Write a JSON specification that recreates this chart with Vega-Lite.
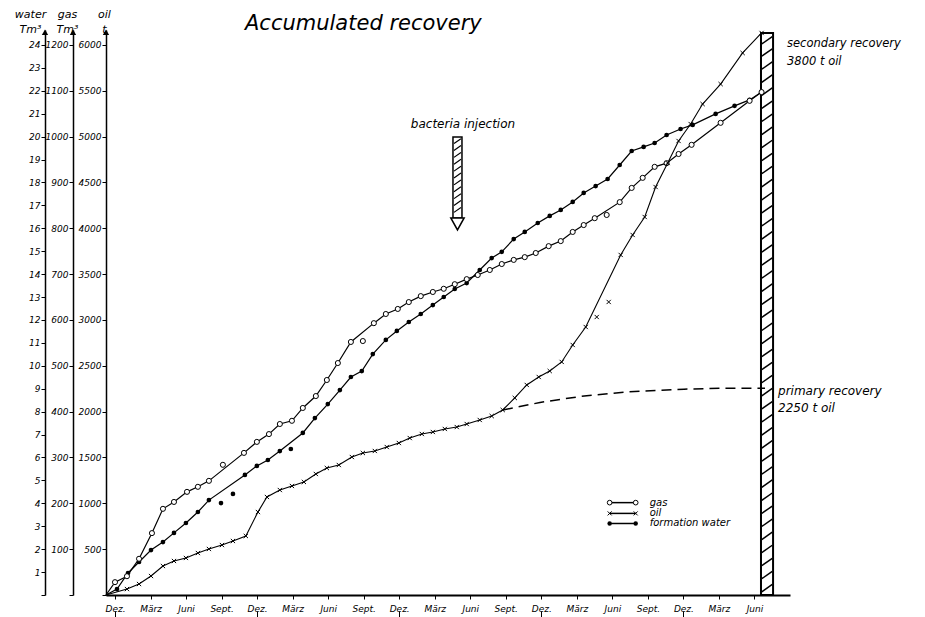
{
"$schema":"https://vega.github.io/schema/vega-lite/v6.json",
"width":684,"height":565,
"autosize":{"type":"none"},
"padding":{"left":106,"top":30,"right":135,"bottom":22},
"background":"white",
"config":{"view":{"stroke":null},"font":"DejaVu Sans",
 "axis":{"grid":false,"domainColor":"black","domainWidth":1.5,"tickColor":"black","tickWidth":1,"labelColor":"black","labelFont":"DejaVu Sans","labelFontStyle":"italic","labelFontSize":10,"titleColor":"black","titleFont":"DejaVu Sans","titleFontStyle":"italic","titleFontWeight":"normal","titleFontSize":11},
 "axisX":{"labelOverlap":false,"labelFlush":false},
 "axisY":{"labelOverlap":false,"labelFontSize":9,"tickSize":4,"labelPadding":1},
 "text":{"font":"DejaVu Sans","fontStyle":"italic","color":"black"}},
"title":{"text":"Accumulated recovery","anchor":"start","frame":"group","dx":139,"dy":24,"offset":-2,"fontSize":21,"fontStyle":"italic","fontWeight":"normal","font":"DejaVu Sans","color":"black"},
"datasets":{
 "water":[{"m":-0.76,"w":0,"on_curve":true},{"m":0.17,"w":0.26,"on_curve":true},{"m":1.10,"w":0.96,"on_curve":true},{"m":2.03,"w":1.44,"on_curve":true},{"m":3.04,"w":1.96,"on_curve":true},{"m":4.05,"w":2.31,"on_curve":true},{"m":4.98,"w":2.71,"on_curve":true},{"m":5.99,"w":3.14,"on_curve":true},{"m":7.00,"w":3.62,"on_curve":true},{"m":7.93,"w":4.14,"on_curve":true},{"m":8.95,"w":4.01,"on_curve":false},{"m":9.96,"w":4.41,"on_curve":false},{"m":10.97,"w":5.24,"on_curve":true},{"m":11.98,"w":5.63,"on_curve":true},{"m":12.91,"w":5.89,"on_curve":true},{"m":13.92,"w":6.28,"on_curve":true},{"m":14.85,"w":6.37,"on_curve":false},{"m":15.86,"w":7.07,"on_curve":true},{"m":16.88,"w":7.72,"on_curve":true},{"m":17.97,"w":8.33,"on_curve":true},{"m":18.99,"w":8.94,"on_curve":true},{"m":19.92,"w":9.51,"on_curve":true},{"m":20.84,"w":9.77,"on_curve":true},{"m":21.77,"w":10.51,"on_curve":true},{"m":22.87,"w":11.13,"on_curve":true},{"m":23.80,"w":11.52,"on_curve":true},{"m":24.81,"w":11.91,"on_curve":true},{"m":25.82,"w":12.26,"on_curve":true},{"m":26.84,"w":12.65,"on_curve":true},{"m":27.76,"w":13.00,"on_curve":true},{"m":28.69,"w":13.35,"on_curve":true},{"m":29.70,"w":13.61,"on_curve":true},{"m":30.80,"w":14.18,"on_curve":true},{"m":31.81,"w":14.70,"on_curve":true},{"m":32.66,"w":14.97,"on_curve":true},{"m":33.67,"w":15.53,"on_curve":true},{"m":34.60,"w":15.84,"on_curve":true},{"m":35.70,"w":16.23,"on_curve":true},{"m":36.71,"w":16.54,"on_curve":true},{"m":37.64,"w":16.80,"on_curve":true},{"m":38.65,"w":17.15,"on_curve":true},{"m":39.58,"w":17.54,"on_curve":true},{"m":40.59,"w":17.84,"on_curve":true},{"m":41.60,"w":18.15,"on_curve":true},{"m":42.62,"w":18.76,"on_curve":true},{"m":43.63,"w":19.37,"on_curve":true},{"m":44.64,"w":19.55,"on_curve":true},{"m":45.57,"w":19.72,"on_curve":true},{"m":46.58,"w":20.07,"on_curve":true},{"m":47.76,"w":20.33,"on_curve":true},{"m":48.78,"w":20.51,"on_curve":true},{"m":50.72,"w":20.99,"on_curve":true},{"m":52.32,"w":21.34,"on_curve":true},{"m":53.59,"w":21.60,"on_curve":true},{"m":54.60,"w":21.95,"on_curve":true}],
 "gas":[{"m":-0.76,"g":0,"on_curve":true},{"m":0,"g":28,"on_curve":true},{"m":1.01,"g":41,"on_curve":true},{"m":2.03,"g":79,"on_curve":true},{"m":3.12,"g":135,"on_curve":true},{"m":4.05,"g":188,"on_curve":true},{"m":4.98,"g":203,"on_curve":true},{"m":6.08,"g":225,"on_curve":true},{"m":7.00,"g":236,"on_curve":true},{"m":7.93,"g":249,"on_curve":true},{"m":9.11,"g":284,"on_curve":false},{"m":10.89,"g":310,"on_curve":true},{"m":11.98,"g":334,"on_curve":true},{"m":13.0,"g":351,"on_curve":true},{"m":13.92,"g":373,"on_curve":true},{"m":14.94,"g":380,"on_curve":true},{"m":15.86,"g":408,"on_curve":true},{"m":16.96,"g":434,"on_curve":true},{"m":17.89,"g":469,"on_curve":true},{"m":18.82,"g":506,"on_curve":true},{"m":19.92,"g":552,"on_curve":true},{"m":20.93,"g":554,"on_curve":false},{"m":21.86,"g":593,"on_curve":true},{"m":22.87,"g":613,"on_curve":true},{"m":23.88,"g":624,"on_curve":true},{"m":24.81,"g":639,"on_curve":true},{"m":25.82,"g":652,"on_curve":true},{"m":26.84,"g":661,"on_curve":true},{"m":27.76,"g":668,"on_curve":true},{"m":28.69,"g":678,"on_curve":true},{"m":29.70,"g":689,"on_curve":true},{"m":30.63,"g":698,"on_curve":true},{"m":31.65,"g":709,"on_curve":true},{"m":32.66,"g":722,"on_curve":true},{"m":33.67,"g":731,"on_curve":true},{"m":34.6,"g":737,"on_curve":true},{"m":35.53,"g":746,"on_curve":true},{"m":36.62,"g":761,"on_curve":true},{"m":37.64,"g":772,"on_curve":true},{"m":38.65,"g":792,"on_curve":true},{"m":39.58,"g":807,"on_curve":true},{"m":40.51,"g":822,"on_curve":true},{"m":41.52,"g":829,"on_curve":false},{"m":42.62,"g":857,"on_curve":true},{"m":43.63,"g":888,"on_curve":true},{"m":44.56,"g":910,"on_curve":true},{"m":45.57,"g":934,"on_curve":true},{"m":46.58,"g":942,"on_curve":true},{"m":47.59,"g":962,"on_curve":true},{"m":48.69,"g":982,"on_curve":true},{"m":51.14,"g":1030,"on_curve":true},{"m":53.59,"g":1078,"on_curve":true},{"m":54.6,"g":1097,"on_curve":true}],
 "oil":[{"m":-0.76,"t":0,"on_curve":true},{"m":1.01,"t":65,"on_curve":true},{"m":2.03,"t":120,"on_curve":true},{"m":3.04,"t":207,"on_curve":true},{"m":4.05,"t":316,"on_curve":true},{"m":4.98,"t":371,"on_curve":true},{"m":5.99,"t":404,"on_curve":true},{"m":7.00,"t":458,"on_curve":true},{"m":7.93,"t":502,"on_curve":true},{"m":9.03,"t":545,"on_curve":true},{"m":9.96,"t":589,"on_curve":true},{"m":11.05,"t":644,"on_curve":true},{"m":12.07,"t":905,"on_curve":true},{"m":12.83,"t":1069,"on_curve":true},{"m":13.92,"t":1145,"on_curve":true},{"m":14.94,"t":1189,"on_curve":true},{"m":15.95,"t":1233,"on_curve":true},{"m":16.96,"t":1320,"on_curve":true},{"m":17.89,"t":1385,"on_curve":true},{"m":18.9,"t":1418,"on_curve":true},{"m":20.0,"t":1505,"on_curve":true},{"m":20.93,"t":1549,"on_curve":true},{"m":21.94,"t":1571,"on_curve":true},{"m":22.95,"t":1614,"on_curve":true},{"m":23.97,"t":1658,"on_curve":true},{"m":24.89,"t":1712,"on_curve":true},{"m":25.91,"t":1756,"on_curve":true},{"m":26.84,"t":1778,"on_curve":true},{"m":27.85,"t":1811,"on_curve":true},{"m":28.86,"t":1832,"on_curve":true},{"m":29.70,"t":1865,"on_curve":true},{"m":30.80,"t":1909,"on_curve":true},{"m":31.81,"t":1952,"on_curve":true},{"m":32.74,"t":2018,"on_curve":true},{"m":33.76,"t":2149,"on_curve":true},{"m":34.77,"t":2291,"on_curve":true},{"m":35.78,"t":2378,"on_curve":true},{"m":36.71,"t":2443,"on_curve":true},{"m":37.72,"t":2542,"on_curve":true},{"m":38.65,"t":2727,"on_curve":true},{"m":39.75,"t":2923,"on_curve":true},{"m":40.68,"t":3032,"on_curve":false},{"m":41.69,"t":3196,"on_curve":false},{"m":42.70,"t":3709,"on_curve":true},{"m":43.71,"t":3927,"on_curve":true},{"m":44.73,"t":4123,"on_curve":true},{"m":45.65,"t":4450,"on_curve":true},{"m":46.67,"t":4712,"on_curve":true},{"m":47.59,"t":4952,"on_curve":true},{"m":48.61,"t":5137,"on_curve":true},{"m":49.62,"t":5355,"on_curve":true},{"m":51.14,"t":5573,"on_curve":true},{"m":53.0,"t":5912,"on_curve":true},{"m":54.6,"t":6130,"on_curve":true}],
 "primary":[{"m":32.76,"t":2018},{"m":35.89,"t":2100},{"m":39.27,"t":2165},{"m":43.23,"t":2215},{"m":48.05,"t":2245},{"m":51.09,"t":2255},{"m":54.89,"t":2255}],
 "bar_hatch":[{"h":0.3},{"h":0.87},{"h":1.44},{"h":2.01},{"h":2.58},{"h":3.15},{"h":3.72},{"h":4.29},{"h":4.86},{"h":5.43},{"h":6.0},{"h":6.57},{"h":7.14},{"h":7.71},{"h":8.28},{"h":8.85},{"h":9.42},{"h":9.99},{"h":10.56},{"h":11.13},{"h":11.7},{"h":12.27},{"h":12.84},{"h":13.41},{"h":13.98},{"h":14.55},{"h":15.12},{"h":15.69},{"h":16.26},{"h":16.83},{"h":17.4},{"h":17.97},{"h":18.54},{"h":19.11},{"h":19.68},{"h":20.25},{"h":20.82},{"h":21.39},{"h":21.96},{"h":22.53},{"h":23.1},{"h":23.67},{"h":24.2}],
 "arrow_hatch":[{"h":16.8},{"h":17.1},{"h":17.4},{"h":17.7},{"h":18.0},{"h":18.3},{"h":18.6},{"h":18.9},{"h":19.2},{"h":19.5},{"h":19.8}]
},
"resolve":{"scale":{"y":"independent"}},
"layer":[
 {"layer":[
  {"data":{"name":"water"},"transform":[{"filter":"datum.on_curve"}],"mark":{"type":"line","color":"black","strokeWidth":1.2},
   "encoding":{"x":{"field":"m","type":"quantitative"},
    "y":{"field":"w","type":"quantitative","scale":{"domain":[0,24.65],"nice":false,"zero":false},
     "axis":{"orient":"left","offset":61,"values":[0,1,2,3,4,5,6,7,8,9,10,11,12,13,14,15,16,17,18,19,20,21,22,23,24],"tickCount":40,"format":"d","labelExpr":"datum.value == 0 ? '' : datum.label","labelOverlap":false,"title":["water","Tm³"],"titleAngle":0,"titleAlign":"center","titleBaseline":"alphabetic","titleX":-15,"titleY":-13,"titleLineHeight":15}}}},
  {"data":{"values":[{}]},"mark":{"type":"rect","fill":"white","stroke":"black","strokeWidth":2},
   "encoding":{"x":{"datum":54.55,"type":"quantitative"},"x2":{"datum":55.57},"y":{"datum":0,"type":"quantitative"},"y2":{"datum":24.52}}},
  {"data":{"name":"bar_hatch"},"mark":{"type":"point","shape":"M-1,0.7L1,-0.7","filled":false,"stroke":"black","strokeWidth":1.5,"size":110,"opacity":1},
   "encoding":{"x":{"datum":55.06,"type":"quantitative"},"y":{"field":"h","type":"quantitative"}}},
  {"data":{"values":[{}]},"mark":{"type":"rect","fill":"white","stroke":"black","strokeWidth":1.5},
   "encoding":{"x":{"datum":28.54,"type":"quantitative"},"x2":{"datum":29.3},"y":{"datum":16.45,"type":"quantitative"},"y2":{"datum":19.98}}},
  {"data":{"name":"arrow_hatch"},"mark":{"type":"point","shape":"M-1,0.7L1,-0.7","filled":false,"stroke":"black","strokeWidth":1.2,"size":49,"opacity":1},
   "encoding":{"x":{"datum":28.92,"type":"quantitative"},"y":{"field":"h","type":"quantitative"}}},
  {"data":{"values":[{}]},"mark":{"type":"point","shape":"M-1,-0.8L1,-0.8L0,1Z","filled":true,"fill":"white","stroke":"black","strokeWidth":1.5,"size":178,"opacity":1},
   "encoding":{"x":{"datum":28.92,"type":"quantitative"},"y":{"datum":16.22,"type":"quantitative"}}},
  {"data":{"name":"water"},"transform":[{"filter":"datum.w > 0"}],"mark":{"type":"point","shape":"circle","filled":true,"color":"black","size":22,"opacity":1},
   "encoding":{"x":{"field":"m","type":"quantitative"},"y":{"field":"w","type":"quantitative"}}},
  {"data":{"values":[{}]},"mark":{"type":"text","align":"left","baseline":"alphabetic","fontSize":12},
   "encoding":{"x":{"datum":24.98,"type":"quantitative"},"y":{"datum":20.38,"type":"quantitative"},"text":{"value":"bacteria injection"}}},
  {"data":{"values":[{}]},"mark":{"type":"text","align":"left","baseline":"alphabetic","fontSize":11.5},
   "encoding":{"x":{"datum":56.75,"type":"quantitative"},"y":{"datum":23.91,"type":"quantitative"},"text":{"value":"secondary recovery"}}},
  {"data":{"values":[{}]},"mark":{"type":"text","align":"left","baseline":"alphabetic","fontSize":11.5},
   "encoding":{"x":{"datum":56.75,"type":"quantitative"},"y":{"datum":23.12,"type":"quantitative"},"text":{"value":"3800 t oil"}}},
  {"data":{"values":[{}]},"mark":{"type":"text","align":"left","baseline":"alphabetic","fontSize":12},
   "encoding":{"x":{"datum":55.99,"type":"quantitative"},"y":{"datum":8.73,"type":"quantitative"},"text":{"value":"primary recovery"}}},
  {"data":{"values":[{}]},"mark":{"type":"text","align":"left","baseline":"alphabetic","fontSize":12},
   "encoding":{"x":{"datum":55.99,"type":"quantitative"},"y":{"datum":7.98,"type":"quantitative"},"text":{"value":"2250 t oil"}}},
  {"data":{"values":[{}]},"mark":{"type":"rule","color":"black","strokeWidth":1.5},
   "encoding":{"x":{"datum":41.77,"type":"quantitative"},"x2":{"datum":43.97},"y":{"datum":4.03,"type":"quantitative"}}},
  {"data":{"values":[{}]},"mark":{"type":"rule","color":"black","strokeWidth":1.5},
   "encoding":{"x":{"datum":41.77,"type":"quantitative"},"x2":{"datum":43.97},"y":{"datum":3.56,"type":"quantitative"}}},
  {"data":{"values":[{}]},"mark":{"type":"rule","color":"black","strokeWidth":1.5},
   "encoding":{"x":{"datum":41.77,"type":"quantitative"},"x2":{"datum":43.97},"y":{"datum":3.12,"type":"quantitative"}}},
  {"data":{"values":[{}]},"mark":{"type":"point","shape":"circle","filled":true,"fill":"white","stroke":"black","strokeWidth":1,"size":22,"opacity":1},
   "encoding":{"x":{"datum":41.77,"type":"quantitative"},"y":{"datum":4.03,"type":"quantitative"}}},
  {"data":{"values":[{}]},"mark":{"type":"point","shape":"circle","filled":true,"fill":"white","stroke":"black","strokeWidth":1,"size":22,"opacity":1},
   "encoding":{"x":{"datum":43.97,"type":"quantitative"},"y":{"datum":4.03,"type":"quantitative"}}},
  {"data":{"values":[{}]},"mark":{"type":"point","shape":"M-1,-1L1,1M-1,1L1,-1","filled":false,"stroke":"black","strokeWidth":1,"size":16,"opacity":1},
   "encoding":{"x":{"datum":41.77,"type":"quantitative"},"y":{"datum":3.56,"type":"quantitative"}}},
  {"data":{"values":[{}]},"mark":{"type":"point","shape":"M-1,-1L1,1M-1,1L1,-1","filled":false,"stroke":"black","strokeWidth":1,"size":16,"opacity":1},
   "encoding":{"x":{"datum":43.97,"type":"quantitative"},"y":{"datum":3.56,"type":"quantitative"}}},
  {"data":{"values":[{}]},"mark":{"type":"point","shape":"circle","filled":true,"color":"black","size":20,"opacity":1},
   "encoding":{"x":{"datum":41.77,"type":"quantitative"},"y":{"datum":3.12,"type":"quantitative"}}},
  {"data":{"values":[{}]},"mark":{"type":"point","shape":"circle","filled":true,"color":"black","size":20,"opacity":1},
   "encoding":{"x":{"datum":43.97,"type":"quantitative"},"y":{"datum":3.12,"type":"quantitative"}}},
  {"data":{"values":[{}]},"mark":{"type":"text","align":"left","baseline":"middle","fontSize":10},
   "encoding":{"x":{"datum":45.15,"type":"quantitative"},"y":{"datum":4.03,"type":"quantitative"},"text":{"value":"gas"}}},
  {"data":{"values":[{}]},"mark":{"type":"text","align":"left","baseline":"middle","fontSize":10},
   "encoding":{"x":{"datum":45.15,"type":"quantitative"},"y":{"datum":3.56,"type":"quantitative"},"text":{"value":"oil"}}},
  {"data":{"values":[{}]},"mark":{"type":"text","align":"left","baseline":"middle","fontSize":10},
   "encoding":{"x":{"datum":45.15,"type":"quantitative"},"y":{"datum":3.12,"type":"quantitative"},"text":{"value":"formation water"}}},
  {"data":{"values":[{}]},"mark":{"type":"point","shape":"triangle-up","filled":true,"color":"black","size":40,"opacity":1},
   "encoding":{"x":{"datum":-0.76,"type":"quantitative"},"y":{"datum":24.55,"type":"quantitative"}}},
  {"data":{"values":[{}]},"mark":{"type":"point","shape":"triangle-up","filled":true,"color":"black","size":40,"opacity":1,"xOffset":-33},
   "encoding":{"x":{"datum":-0.76,"type":"quantitative"},"y":{"datum":24.55,"type":"quantitative"}}},
  {"data":{"values":[{}]},"mark":{"type":"point","shape":"triangle-up","filled":true,"color":"black","size":40,"opacity":1,"xOffset":-61},
   "encoding":{"x":{"datum":-0.76,"type":"quantitative"},"y":{"datum":24.55,"type":"quantitative"}}}
 ]},
 {"layer":[
  {"data":{"name":"gas"},"transform":[{"filter":"datum.on_curve"}],"mark":{"type":"line","color":"black","strokeWidth":1.2},
   "encoding":{"x":{"field":"m","type":"quantitative"},
    "y":{"field":"g","type":"quantitative","scale":{"domain":[0,1232.5],"nice":false,"zero":false},
     "axis":{"orient":"left","offset":33,"values":[0,100,200,300,400,500,600,700,800,900,1000,1100,1200],"tickCount":40,"format":"d","labelExpr":"datum.value == 0 ? '' : datum.label","labelOverlap":false,"title":["gas","Tm³"],"titleAngle":0,"titleAlign":"center","titleBaseline":"alphabetic","titleX":-6,"titleY":-13,"titleLineHeight":15}}}},
  {"data":{"name":"gas"},"transform":[{"filter":"datum.g > 0"}],"mark":{"type":"point","shape":"circle","filled":true,"fill":"white","stroke":"black","strokeWidth":1,"size":26,"opacity":1},
   "encoding":{"x":{"field":"m","type":"quantitative"},"y":{"field":"g","type":"quantitative"}}}
 ]},
 {"layer":[
  {"data":{"name":"oil"},"transform":[{"filter":"datum.on_curve"}],"mark":{"type":"line","color":"black","strokeWidth":1.1},
   "encoding":{"x":{"field":"m","type":"quantitative","scale":{"domain":[-0.76,57],"nice":false,"zero":false},
     "axis":{"values":[0,3,6,9,12,15,18,21,24,27,30,33,36,39,42,45,48,51,54],"tickCount":40,"title":null,"labelExpr":"['Dez.','März','Juni','Sept.'][(datum.value/3)%4]","labelFontSize":9,"labelPadding":-13,"tickSize":22,"tickDash":{"condition":{"test":"datum.value % 12 == 0","value":[4,12,6]},"value":[4,40]},"labelOverlap":false,"labelFlush":false,"domainWidth":2}},
    "y":{"field":"t","type":"quantitative","scale":{"domain":[0,6162.5],"nice":false,"zero":false},
     "axis":{"orient":"left","offset":0,"values":[0,500,1000,1500,2000,2500,3000,3500,4000,4500,5000,5500,6000],"tickCount":40,"format":"d","labelExpr":"datum.value == 0 ? '' : datum.label","labelOverlap":false,"title":["oil","t"],"titleAngle":0,"titleAlign":"center","titleBaseline":"alphabetic","titleX":-2,"titleY":-13,"titleLineHeight":15}}}},
  {"data":{"name":"primary"},"mark":{"type":"line","color":"black","strokeWidth":1.5,"strokeDash":[10,6]},
   "encoding":{"x":{"field":"m","type":"quantitative"},"y":{"field":"t","type":"quantitative"}}},
  {"data":{"name":"oil"},"transform":[{"filter":"datum.t > 0"}],"mark":{"type":"point","shape":"M-1,-1L1,1M-1,1L1,-1","filled":false,"stroke":"black","strokeWidth":1,"size":18,"opacity":1},
   "encoding":{"x":{"field":"m","type":"quantitative"},"y":{"field":"t","type":"quantitative"}}}
 ]}
]
}
